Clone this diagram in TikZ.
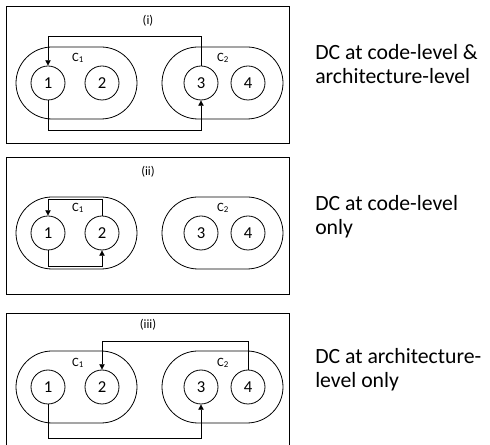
\documentclass[tikz,border=0pt]{standalone}
\usepackage{fontspec}
\setmainfont{Carlito}
\usetikzlibrary{arrows.meta}

\tikzset{
  comp/.style={draw, circle, line width=0.6pt, minimum size=25.5pt, inner sep=0pt,
    font=\fontsize{12.5}{14}\selectfont},
  pill/.style={draw, rectangle, line width=0.6pt, rounded corners=27pt,
    minimum width=90.75pt, minimum height=54pt},
  dep/.style={line width=0.6pt, -{Triangle[length=4pt,width=4pt]}},
  panel/.style={line width=0.6pt},
  tag/.style={font=\fontsize{9.5}{11}\selectfont},
  desc/.style={anchor=base west, align=left, inner sep=0pt,
    font=\fontsize{16.3}{18}\selectfont}
}

\begin{document}
\begin{tikzpicture}[x=0.75pt, y=-0.75pt]
\useasboundingbox (0,0) rectangle (490,445);

% (i)
\draw[panel] (6,6) rectangle (289,143);
\node[tag] (t1) at (148,21) {(i)};
\node[pill] (p1a) at (76.5,83) {};
\node[pill] (p1b) at (222.5,83) {};
\node[tag] (l1a) at (78,58) {C\textsubscript{1}};
\node[tag] (l1b) at (223,58) {C\textsubscript{2}};
\node[comp] (a1) at (48,83) {1};
\node[comp] (a2) at (102,83) {2};
\node[comp] (a3) at (201,83) {3};
\node[comp] (a4) at (248,83) {4};
\draw[dep] (a3.north) -- (a3.north |- 0,36) -| (a1.north);
\draw[dep] (a1.south) -- (a1.south |- 0,130) -| (a3.south);
\node[desc] (d1) at (315,84) {DC at code-level \&\\architecture-level};

% (ii)
\draw[panel] (6,157) rectangle (289,294);
\node[tag] (t2) at (148,172) {(ii)};
\node[pill] (p2a) at (76.5,233) {};
\node[pill] (p2b) at (222.5,233) {};
\node[tag] (l2a) at (78,208) {C\textsubscript{1}};
\node[tag] (l2b) at (223,208) {C\textsubscript{2}};
\node[comp] (b1) at (48,233) {1};
\node[comp] (b2) at (102,233) {2};
\node[comp] (b3) at (201,233) {3};
\node[comp] (b4) at (248,233) {4};
\draw[dep] (b2.north) -- (b2.north |- 0,199) -| (b1.north);
\draw[dep] (b1.south) -- (b1.south |- 0,266) -| (b2.south);
\node[desc] (d2) at (315,235) {DC at code-level\\only};

% (iii)
\draw[panel] (6,313) rectangle (289,452);
\node[tag] (t3) at (148,325) {(iii)};
\node[pill] (p3a) at (76.5,387) {};
\node[pill] (p3b) at (222.5,387) {};
\node[tag] (l3a) at (78,363) {C\textsubscript{1}};
\node[tag] (l3b) at (223,363) {C\textsubscript{2}};
\node[comp] (c1) at (48,387) {1};
\node[comp] (c2) at (102,387) {2};
\node[comp] (c3) at (201,387) {3};
\node[comp] (c4) at (248,387) {4};
\draw[dep] (c4.north) -- (c4.north |- 0,341) -| (c2.north);
\draw[dep] (c1.south) -- (c1.south |- 0,438) -| (c3.south);
\node[desc] (d3) at (315,388) {DC at architecture-\\level only};
\end{tikzpicture}
\end{document}
